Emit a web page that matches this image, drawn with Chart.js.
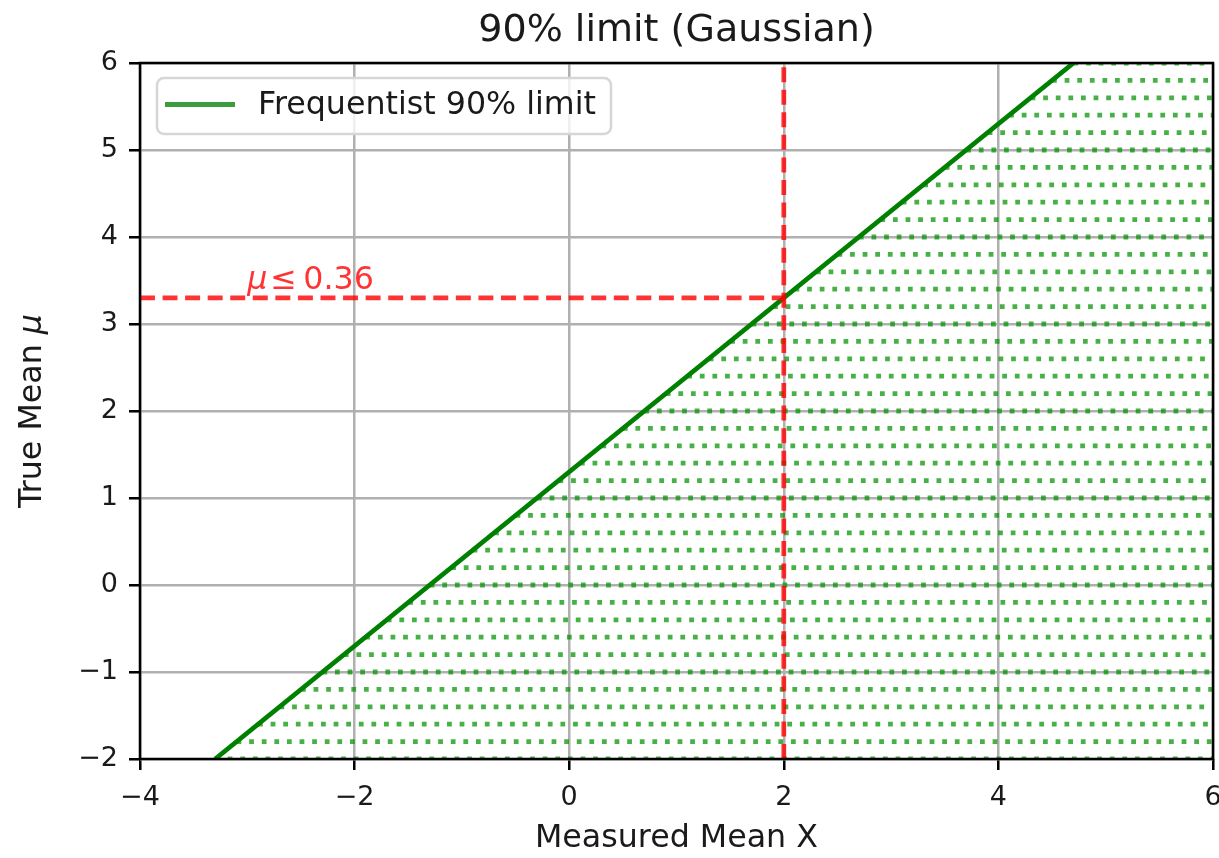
<!DOCTYPE html>
<html>
<head>
<meta charset="utf-8">
<script src="https://cdn.jsdelivr.net/npm/chart.js@4/dist/chart.umd.min.js"></script>
<style>
  html, body { margin: 0; padding: 0; background: #ffffff; }
  canvas { display: block; }
</style>
</head>
<body>
<canvas id="chart" width="1219" height="858"></canvas>
<script>
// Confidence belt: 90% upper limit on the true mean for a Gaussian measurement
const limitMeasured = [-3.3, 4.7];   // measured mean X at the ends of the limit line
const limitTrue = [-2, 6];           // true mean mu at those ends

// Horizontal dotted rows shading the accepted region (true mean, row start on the limit line)
const rowTrueMean = [-2.0, -1.8, -1.6, -1.4, -1.2, -1.0, -0.8, -0.6, -0.4, -0.2,
                     0.0, 0.2, 0.4, 0.6, 0.8, 1.0, 1.2, 1.4, 1.6, 1.8,
                     2.0, 2.2, 2.4, 2.6, 2.8, 3.0, 3.2, 3.4, 3.6, 3.8,
                     4.0, 4.2, 4.4, 4.6, 4.8, 5.0, 5.2, 5.4, 5.6, 5.8, 6.0];
const rowStartX = [-3.3, -3.1, -2.9, -2.7, -2.5, -2.3, -2.1, -1.9, -1.7, -1.5,
                   -1.3, -1.1, -0.9, -0.7, -0.5, -0.3, -0.1, 0.1, 0.3, 0.5,
                   0.7, 0.9, 1.1, 1.3, 1.5, 1.7, 1.9, 2.1, 2.3, 2.5,
                   2.7, 2.9, 3.1, 3.3, 3.5, 3.7, 3.9, 4.1, 4.3, 4.5, 4.7];
const rowEndX = 6;

// Observed measurement and its read-off limit
const observedX = 2;
const observedLimit = 3.3;
const limitLabel = { mu: 'μ', rel: '≤', value: '0.36', x: -3.0, y: 3.4 };

const xRange = [-4, 6];
const yRange = [-2, 6];
const xTickStep = 2;
const yTickStep = 1;

const chartTitle = '90% limit (Gaussian)';
const xTitle = 'Measured Mean X';
const yTitleText = 'True Mean ';
const yTitleSymbol = 'μ';
const legendText = 'Frequentist 90% limit';

const FONT = "'DejaVu Sans', 'Liberation Sans', sans-serif";
const SCALE = 3.17;               // px per point
const LW = 1.5 * SCALE;           // default line width
const GREEN = '#008000';
const GREEN_SOFT = 'rgba(0,145,0,0.72)';
const RED = 'rgba(255,0,0,0.8)';
const TEXT = '#1a1a1a';
const TICK_SIZE = 27;

const datasets = [];

rowTrueMean.forEach((mu, i) => {
  datasets.push({
    label: 'row',
    data: [{ x: rowStartX[i], y: mu }, { x: rowEndX, y: mu }],
    borderColor: GREEN_SOFT,
    borderWidth: LW,
    borderDash: [1.0 * LW, 1.65 * LW],
    borderCapStyle: 'butt',
    pointRadius: 0,
    fill: false,
    order: 5
  });
});

datasets.push({
  label: legendText,
  data: limitMeasured.map((x, i) => ({ x: x, y: limitTrue[i] })),
  borderColor: GREEN,
  borderWidth: LW,
  pointRadius: 0,
  fill: false,
  order: 2
});

datasets.push({
  label: 'observed',
  data: [{ x: observedX, y: yRange[0] }, { x: observedX, y: yRange[1] }],
  borderColor: RED,
  borderWidth: LW,
  borderDash: [3.7 * LW * 0.85, 1.6 * LW],
  borderCapStyle: 'butt',
  pointRadius: 0,
  fill: false,
  order: 1
});

datasets.push({
  label: 'limit',
  data: [{ x: xRange[0], y: observedLimit }, { x: observedX, y: observedLimit }],
  borderColor: RED,
  borderWidth: LW,
  borderDash: [3.7 * LW * 0.85, 1.6 * LW],
  borderCapStyle: 'butt',
  pointRadius: 0,
  fill: false,
  order: 1
});

const minus = v => String(v).replace('-', '\u2212');

// Title, y-axis label, frame, annotation text and legend box
const decorations = {
  id: 'decorations',
  afterDraw(chart) {
    const { ctx, chartArea: a } = chart;
    ctx.save();
    ctx.fillStyle = TEXT;
    ctx.textAlign = 'center';
    ctx.textBaseline = 'middle';
    ctx.font = `${12 * SCALE}px ${FONT}`;
    ctx.fillText(chartTitle, (a.left + a.right) / 2, 31);

    // y-axis label with italic symbol
    ctx.translate(33, (a.top + a.bottom) / 2);
    ctx.rotate(-Math.PI / 2);
    const fN = `${10 * SCALE}px ${FONT}`;
    const fI = `oblique ${10 * SCALE}px ${FONT}`;
    ctx.font = fN;
    const w1 = ctx.measureText(yTitleText).width;
    ctx.font = fI;
    const w2 = ctx.measureText(yTitleSymbol).width;
    const x0 = -(w1 + w2) / 2;
    ctx.textAlign = 'left';
    ctx.font = fN;
    ctx.fillText(yTitleText, x0, 0);
    ctx.font = fI;
    ctx.fillText(yTitleSymbol, x0 + w1, 0);
    ctx.restore();
  },
  afterDatasetsDraw(chart) {
    const { ctx, chartArea: a, scales } = chart;
    ctx.save();

    // annotation
    const px = scales.x.getPixelForValue(limitLabel.x);
    const py = scales.y.getPixelForValue(limitLabel.y);
    ctx.fillStyle = RED;
    ctx.textBaseline = 'alphabetic';
    ctx.textAlign = 'left';
    ctx.font = `oblique ${10 * SCALE}px ${FONT}`;
    ctx.fillText(limitLabel.mu, px, py);
    ctx.font = `${10 * SCALE}px ${FONT}`;
    ctx.fillText(limitLabel.rel, px + 23, py);
    ctx.fillText(limitLabel.value, px + 56, py);

    // spines
    ctx.strokeStyle = '#000';
    ctx.lineWidth = 0.8 * SCALE;
    ctx.strokeRect(a.left, a.top, a.right - a.left, a.bottom - a.top);

    // legend
    const bx = 157, by = 78, bw = 454, bh = 56, r = 7;
    ctx.beginPath();
    ctx.moveTo(bx + r, by);
    ctx.arcTo(bx + bw, by, bx + bw, by + bh, r);
    ctx.arcTo(bx + bw, by + bh, bx, by + bh, r);
    ctx.arcTo(bx, by + bh, bx, by, r);
    ctx.arcTo(bx, by, bx + bw, by, r);
    ctx.closePath();
    ctx.fillStyle = 'rgba(255,255,255,0.8)';
    ctx.fill();
    ctx.strokeStyle = '#d6d6d6';
    ctx.lineWidth = 0.8 * SCALE;
    ctx.stroke();

    ctx.beginPath();
    ctx.moveTo(165, 104.5);
    ctx.lineTo(235, 104.5);
    ctx.strokeStyle = '#3a9c3a';
    ctx.lineWidth = LW;
    ctx.stroke();

    ctx.fillStyle = TEXT;
    ctx.font = `${10 * SCALE}px ${FONT}`;
    ctx.textBaseline = 'middle';
    ctx.fillText(legendText, 258, 106);

    ctx.restore();
  }
};

new Chart(document.getElementById('chart'), {
  type: 'line',
  data: { datasets },
  options: {
    responsive: false,
    devicePixelRatio: 1,
    animation: false,
    layout: { padding: { left: 0, right: 6, top: 63, bottom: 0 } },
    plugins: {
      legend: { display: false },
      tooltip: { enabled: false },
      title: { display: false }
    },
    scales: {
      x: {
        type: 'linear',
        min: xRange[0],
        max: xRange[1],
        afterFit(scale) {
          scale.height = 99;
          scale.paddingLeft = 0;
          scale.paddingRight = 0;
        },
        ticks: {
          stepSize: xTickStep,
          color: TEXT,
          font: { family: FONT, size: TICK_SIZE },
          padding: 12,
          maxRotation: 0,
          callback: v => minus(v)
        },
        grid: {
          color: '#b0b0b0',
          lineWidth: 0.8 * SCALE,
          tickColor: '#000',
          tickLength: 11,
          tickWidth: 0.8 * SCALE
        },
        border: { display: false },
        title: {
          display: true,
          text: xTitle,
          color: TEXT,
          font: { family: FONT, size: 10 * SCALE },
          padding: { top: 4, bottom: 0 }
        }
      },
      y: {
        type: 'linear',
        min: yRange[0],
        max: yRange[1],
        afterFit(scale) {
          scale.width = 140;
          scale.paddingTop = 0;
          scale.paddingBottom = 0;
        },
        ticks: {
          stepSize: yTickStep,
          color: TEXT,
          font: { family: FONT, size: TICK_SIZE },
          padding: 11,
          callback: v => minus(v)
        },
        grid: {
          color: '#b0b0b0',
          lineWidth: 0.8 * SCALE,
          tickColor: '#000',
          tickLength: 11,
          tickWidth: 0.8 * SCALE
        },
        border: { display: false },
        title: { display: false }
      }
    }
  },
  plugins: [decorations]
});
</script>
</body>
</html>
